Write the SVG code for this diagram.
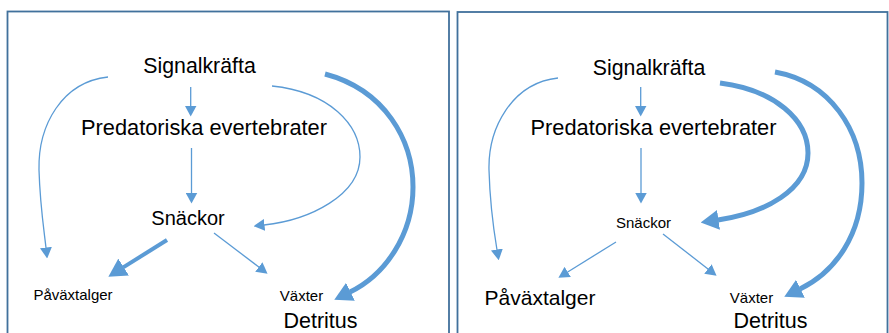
<svg xmlns="http://www.w3.org/2000/svg" width="889" height="333" viewBox="0 0 889 333">
<style>
.frame{fill:none;stroke:#41719c;stroke-width:1.8}
.t{font-family:"Liberation Sans",Arial,sans-serif;fill:#000;text-anchor:middle}
.thin{fill:none;stroke:#5b9bd5;stroke-width:1.3}
.thick{fill:none;stroke:#5b9bd5;stroke-width:5}
.med{fill:none;stroke:#5b9bd5;stroke-width:4}
</style>
<defs>
<marker id="ah" markerUnits="userSpaceOnUse" markerWidth="11" markerHeight="12" viewBox="0 0 11 12" refX="0.5" refY="6" orient="auto"><path d="M0,0 L11,6 L0,12 z" fill="#5b9bd5"/></marker>
<marker id="ahb" markerUnits="userSpaceOnUse" markerWidth="18" markerHeight="20" viewBox="0 0 18 20" refX="0.5" refY="10" orient="auto"><path d="M0,0 L18,10 L0,20 z" fill="#5b9bd5"/></marker>
</defs>
<rect width="889" height="333" fill="#fff"/>
<rect class="frame" x="7.5" y="11.5" width="441.5" height="335"/>
<rect class="frame" x="457.5" y="12" width="430" height="335"/>

<g id="left-panel">
<g id="l-signalkrafta"><text class="t" x="199.5" y="73" font-size="21.3">Signalkräfta</text></g>
<g id="l-predatoriska"><text class="t" x="204" y="135" font-size="21.8">Predatoriska evertebrater</text></g>
<g id="l-snackor"><text class="t" x="188" y="225" font-size="20">Snäckor</text></g>
<g id="l-pavaxtalger"><text class="t" x="73" y="300" font-size="15">Påväxtalger</text></g>
<g id="l-vaxter"><text class="t" x="301.5" y="301" font-size="15">Växter</text></g>
<g id="l-detritus"><text class="t" x="320.5" y="328" font-size="21.5">Detritus</text></g>
</g>

<g id="right-panel">
<g id="r-signalkrafta"><text class="t" x="649" y="75" font-size="21.3">Signalkräfta</text></g>
<g id="r-predatoriska"><text class="t" x="653.5" y="135" font-size="21.8">Predatoriska evertebrater</text></g>
<g id="r-snackor"><text class="t" x="643.5" y="228" font-size="15">Snäckor</text></g>
<g id="r-pavaxtalger"><text class="t" x="540" y="305" font-size="21">Påväxtalger</text></g>
<g id="r-vaxter"><text class="t" x="751.5" y="303" font-size="15">Växter</text></g>
<g id="r-detritus"><text class="t" x="770.5" y="328" font-size="21.5">Detritus</text></g>
</g>

<g id="connectors">
<path class="thin" d="M190.7,87 V106" marker-end="url(#ah)"/>
<path class="thin" d="M191.5,148 V193" marker-end="url(#ah)"/>
<path class="thin" d="M108,77 C62,82 38,125 39,170 C40,205 44,230 46,248" marker-end="url(#ah)"/>
<path class="thin" d="M272,86 C330,92 360,125 360,157 C360,195 310,220 264,225" marker-end="url(#ah)"/>
<path class="thick" d="M325,74 C385,90 413,140 413,187 C413,235 385,275 350,292" marker-end="url(#ahb)"/>
<path class="med" d="M167,240 L123.2,267.4" marker-end="url(#ahb)"/>
<path class="thin" d="M214,233 L259.2,267.3" marker-end="url(#ah)"/>

<path class="thin" d="M640.7,87 V106" marker-end="url(#ah)"/>
<path class="thin" d="M641,148 V193" marker-end="url(#ah)"/>
<path class="thin" d="M558,78 C512,83 488,128 489,170 C490,207 494,232 497,250" marker-end="url(#ah)"/>
<path class="thick" d="M720,83 C775,90 808,120 808,153 C808,190 765,213 718,220" marker-end="url(#ahb)"/>
<path class="thick" d="M775,72 C830,82 862,130 862,183 C862,235 835,272 800,289" marker-end="url(#ahb)"/>
<path class="thin" d="M616,242 L567.3,272.2" marker-end="url(#ah)"/>
<path class="thin" d="M663,234 L708.3,269.2" marker-end="url(#ah)"/>
</g>
</svg>
